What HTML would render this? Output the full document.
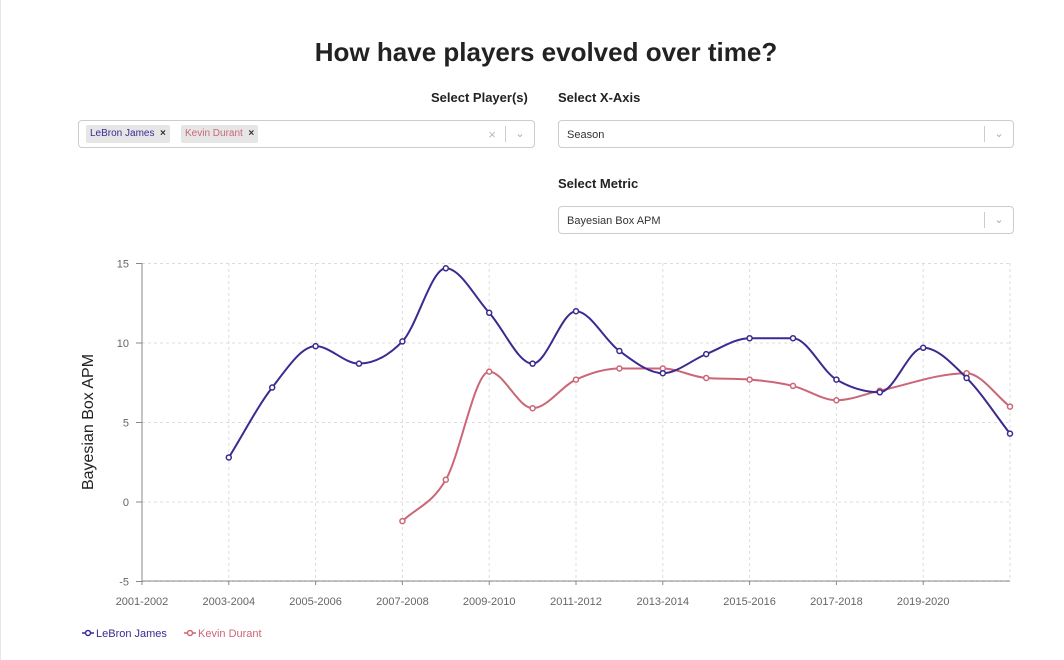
<!DOCTYPE html>
<html><head><meta charset="utf-8"><style>
body{margin:0;width:1064px;height:660px;background:#fff;font-family:"Liberation Sans",sans-serif;position:relative;overflow:hidden;border-left:1px solid #e6e6e6;box-sizing:border-box}
h1{position:absolute;left:0;width:1090px;top:37px;margin:0;text-align:center;font-size:26px;font-weight:bold;color:#222}
.lbl{position:absolute;font-size:13px;font-weight:bold;color:#222}
.sel{position:absolute;height:28px;border:1px solid #ccc;border-radius:4px;box-sizing:border-box;font-size:11px;color:#333}
.sel .v{position:absolute;left:8px;top:8px}
.sel .ar{position:absolute;right:0;top:5px;width:28px;height:16px;border-left:1px solid #ccc;color:#aaa;text-align:center;font-size:11px;line-height:16px}
.tag{position:absolute;top:4px;height:18px;background:#e6e6e6;border-radius:2px;font-size:10px;line-height:18px;padding:0 4px}
</style></head><body>
<h1>How have players evolved over time?</h1>
<div class="lbl" style="left:430px;top:90px">Select Player(s)</div>
<div class="sel" style="left:77px;top:120px;width:457px">
 <span class="tag" style="left:7px;color:#3b2a8f">LeBron James&nbsp;&nbsp;<b style="color:#333">×</b></span>
 <span class="tag" style="left:102px;color:#cc6677">Kevin Durant&nbsp;&nbsp;<b style="color:#333">×</b></span>
 <span style="position:absolute;right:38px;top:6px;color:#bbb;font-size:13px">×</span>
 <span class="ar">⌄</span></div>
<div class="lbl" style="left:557px;top:90px">Select X-Axis</div>
<div class="sel" style="left:557px;top:120px;width:456px"><span class="v">Season</span><span class="ar">⌄</span></div>
<div class="lbl" style="left:557px;top:176px">Select Metric</div>
<div class="sel" style="left:557px;top:206px;width:456px"><span class="v">Bayesian Box APM</span><span class="ar">⌄</span></div>
<svg id="c" width="1064" height="660" style="position:absolute;left:0;top:0"></svg>
<script>
const seasons=[];for(let y=2001;y<=2021;y++)seasons.push(y+"-"+(y+1));
const yTicks=[-5,0,5,10,15];
const lebronSeasons=["2003-2004","2004-2005","2005-2006","2006-2007","2007-2008","2008-2009","2009-2010","2010-2011","2011-2012","2012-2013","2013-2014","2014-2015","2015-2016","2016-2017","2017-2018","2018-2019","2019-2020","2020-2021","2021-2022"];
const lebronValues=[2.8,7.2,9.8,8.7,10.1,14.7,11.9,8.7,12.0,9.5,8.1,9.3,10.3,10.3,7.7,6.9,9.7,7.8,4.3];
const durantSeasons=["2007-2008","2008-2009","2009-2010","2010-2011","2011-2012","2012-2013","2013-2014","2014-2015","2015-2016","2016-2017","2017-2018","2018-2019","2020-2021","2021-2022"];
const durantValues=[-1.2,1.4,8.2,5.9,7.7,8.4,8.4,7.8,7.7,7.3,6.4,7.0,8.1,6.0];
const X=s=>141+seasons.indexOf(s)*43.4;
const Y=v=>502-v*15.9;
const svg=document.getElementById('c');const NS="http://www.w3.org/2000/svg";
function mk(t,a,p){const e=document.createElementNS(NS,t);for(const k in a)e.setAttribute(k,a[k]);(p||svg).appendChild(e);return e;}
yTicks.forEach(v=>{
 const l=mk('line',{x1:141,x2:1009,y1:Y(v),y2:Y(v),stroke:'#ddd','stroke-dasharray':'3,3'});
 
 const t=mk('text',{x:128,y:Y(v)+4,'text-anchor':'end','font-size':11,fill:'#666'});t.textContent=v;
 
 mk('line',{x1:135,x2:141,y1:Y(v),y2:Y(v),stroke:'#888'});
});
seasons.forEach((s,i)=>{
 if(i%2)return;
 const l=mk('line',{x1:X(s),x2:X(s),y1:263,y2:581,stroke:'#ddd','stroke-dasharray':'3,3'});
 
 if(i===seasons.length-1)return;
 mk('line',{x1:X(s),x2:X(s),y1:581,y2:585,stroke:'#888'});
 const t=mk('text',{x:X(s),y:605,'text-anchor':'middle','font-size':11,fill:'#666'});t.textContent=s;
 
});
const ax=mk('line',{x1:141,x2:141,y1:263,y2:581,stroke:'#888'});
const bx=mk('line',{x1:141,x2:1009,y1:581,y2:581,stroke:'#888'});
const yt=mk('text',{x:0,y:0,transform:'translate(92,422) rotate(-90)','text-anchor':'middle','font-size':16,fill:'#222'});yt.textContent='Bayesian Box APM';

function path(pts){
 const n=pts.length,sl=[],t=[];
 for(let i=0;i<n-1;i++)sl.push((pts[i+1][1]-pts[i][1])/(pts[i+1][0]-pts[i][0]));
 for(let i=0;i<n;i++){
  if(i===0)t.push(sl[0]);else if(i===n-1)t.push(sl[n-2]);
  else{const a=sl[i-1],b=sl[i];if(a*b<=0)t.push(0);else{const h0=pts[i][0]-pts[i-1][0],h1=pts[i+1][0]-pts[i][0];
   const p=(a*h1+b*h0)/(h0+h1);t.push((Math.sign(a)+Math.sign(b))*Math.min(Math.abs(a),Math.abs(b),0.5*Math.abs(p)));}}
 }
 let d=`M${pts[0][0]},${pts[0][1]}`;
 for(let i=0;i<n-1;i++){const h=(pts[i+1][0]-pts[i][0])/3;
  d+=` C${pts[i][0]+h},${pts[i][1]+h*t[i]} ${pts[i+1][0]-h},${pts[i+1][1]-h*t[i+1]} ${pts[i+1][0]},${pts[i+1][1]}`;}
 return d;}
function series(ss,vs,col,name){
 const pts=ss.map((s,i)=>[X(s),Y(vs[i])]);
 const p=mk('path',{d:path(pts),fill:'none',stroke:col,'stroke-width':2});
 
 pts.forEach(q=>{const c=mk('circle',{cx:q[0],cy:q[1],r:2.5,fill:'#fff',stroke:col,'stroke-width':1.5});
 });
}
series(durantSeasons,durantValues,'#cc6677','durant');
series(lebronSeasons,lebronValues,'#3b2a8f','lebron');
function leg(x,col,txt,name){const g=mk('g',{});
 mk('line',{x1:x,x2:x+12,y1:633,y2:633,stroke:col,'stroke-width':1.5},g);mk('circle',{cx:x+6,cy:633,r:2.5,fill:'#fff',stroke:col,'stroke-width':1.5},g);
 const t=mk('text',{x:x+14,y:637,'font-size':11,fill:col},g);t.textContent=txt;}
leg(81,'#3b2a8f','LeBron James','legend-lebron');
leg(183,'#cc6677','Kevin Durant','legend-durant');
</script>
</body></html>
